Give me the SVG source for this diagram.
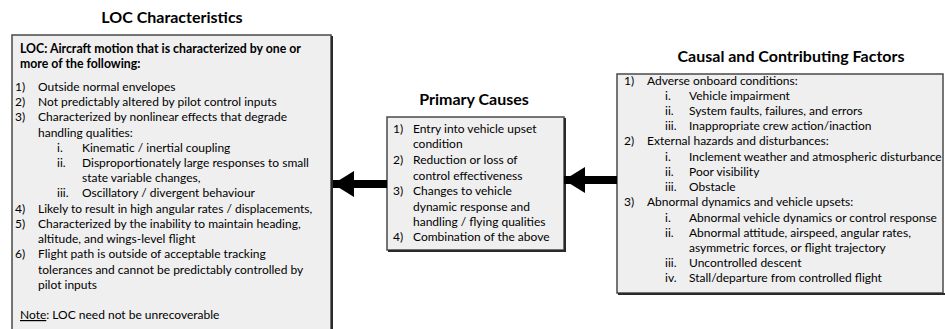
<svg xmlns="http://www.w3.org/2000/svg" width="945" height="329" viewBox="0 0 945 329">
  <defs>
    <style>
      .box { fill: #efefef; stroke: #4a4a4a; stroke-width: 1.5; }
      .shadow { fill: none; stroke: #2a2a2a; stroke-width: 2; }
      .title { font-family: Lato, "Liberation Sans", sans-serif; font-weight: bold; font-size: 16px; fill: #000; text-anchor: middle; }
      .t { font-family: Lato, "Liberation Sans", sans-serif; font-size: 12px; fill: #000; }
      .b { font-weight: bold; font-size: 12.3px; }
      .conn { stroke: #000; stroke-width: 8; fill: none; }
    </style>
    <marker id="head" markerUnits="userSpaceOnUse" markerWidth="22" markerHeight="26" refX="21" refY="13" orient="auto">
      <path d="M0,0 L21,13 L0,26 Z" fill="#000"/>
    </marker>
  </defs>
  <rect width="945" height="329" fill="#fff"/>

  <g id="loc-characteristics">
    <text class="title" x="172" y="23">LOC Characteristics</text>
    <rect class="box" x="12" y="35" width="319" height="310"/>
    <path class="shadow" d="M332,36 V340"/>
    <text class="t b" x="20" y="53">LOC: Aircraft motion that is characterized by one or</text>
    <text class="t b" x="20" y="68">more of the following:</text>
    <g class="t">
      <text x="15" y="91">1)</text><text x="38" y="91">Outside normal envelopes</text>
      <text x="15" y="106">2)</text><text x="38" y="106">Not predictably altered by pilot control inputs</text>
      <text x="15" y="121">3)</text><text x="38" y="121">Characterized by nonlinear effects that degrade</text>
      <text x="38" y="137">handling qualities:</text>
      <text x="57" y="152">i.</text><text x="82" y="152">Kinematic / inertial coupling</text>
      <text x="57" y="167">ii.</text><text x="82" y="167">Disproportionately large responses to small</text>
      <text x="82" y="182">state variable changes,</text>
      <text x="57" y="197">iii.</text><text x="82" y="197">Oscillatory / divergent behaviour</text>
      <text x="15" y="213">4)</text><text x="38" y="213">Likely to result in high angular rates / displacements,</text>
      <text x="15" y="228">5)</text><text x="38" y="228">Characterized by the inability to maintain heading,</text>
      <text x="38" y="243">altitude, and wings-level flight</text>
      <text x="15" y="258">6)</text><text x="38" y="258">Flight path is outside of acceptable tracking</text>
      <text x="38" y="274">tolerances and cannot be predictably controlled by</text>
      <text x="38" y="289">pilot inputs</text>
      <text x="20" y="319"><tspan text-decoration="underline">Note</tspan>: LOC need not be unrecoverable</text>
    </g>
  </g>

  <g id="primary-causes">
    <text class="title" x="474" y="105">Primary Causes</text>
    <rect class="box" x="387" y="117" width="177" height="133"/>
    <path class="shadow" d="M565,118 V251 H388"/>
    <g class="t">
      <text x="393" y="133">1)</text><text x="413" y="133">Entry into vehicle upset</text>
      <text x="413" y="148">condition</text>
      <text x="393" y="164">2)</text><text x="413" y="164">Reduction or loss of</text>
      <text x="413" y="180">control effectiveness</text>
      <text x="393" y="195">3)</text><text x="413" y="195">Changes to vehicle</text>
      <text x="413" y="211">dynamic response and</text>
      <text x="413" y="226">handling / flying qualities</text>
      <text x="393" y="241">4)</text><text x="413" y="241">Combination of the above</text>
    </g>
  </g>

  <g id="causal-factors">
    <text class="title" x="791" y="62">Causal and Contributing Factors</text>
    <rect class="box" x="617" y="74" width="326" height="219"/>
    <path class="shadow" d="M618,294 H945"/>
    <g class="t">
      <text x="624" y="85">1)</text><text x="647" y="85">Adverse onboard conditions:</text>
      <text x="665" y="100">i.</text><text x="689" y="100">Vehicle impairment</text>
      <text x="665" y="115">ii.</text><text x="689" y="115">System faults, failures, and errors</text>
      <text x="665" y="130">iii.</text><text x="689" y="130">Inappropriate crew action/inaction</text>
      <text x="624" y="145">2)</text><text x="647" y="145">External hazards and disturbances:</text>
      <text x="665" y="161">i.</text><text x="689" y="161">Inclement weather and atmospheric disturbance</text>
      <text x="665" y="176">ii.</text><text x="689" y="176">Poor visibility</text>
      <text x="665" y="191">iii.</text><text x="689" y="191">Obstacle</text>
      <text x="624" y="206">3)</text><text x="647" y="206">Abnormal dynamics and vehicle upsets:</text>
      <text x="665" y="222">i.</text><text x="689" y="222">Abnormal vehicle dynamics or control response</text>
      <text x="665" y="237">ii.</text><text x="689" y="237">Abnormal attitude, airspeed, angular rates,</text>
      <text x="689" y="252">asymmetric forces, or flight trajectory</text>
      <text x="665" y="267">iii.</text><text x="689" y="267">Uncontrolled descent</text>
      <text x="665" y="282">iv.</text><text x="689" y="282">Stall/departure from controlled flight</text>
    </g>
  </g>

  <g id="connectors">
    <line class="conn" x1="387" y1="184" x2="333" y2="184" marker-end="url(#head)"/>
    <line class="conn" x1="617" y1="180" x2="564" y2="180" marker-end="url(#head)"/>
  </g>
</svg>
